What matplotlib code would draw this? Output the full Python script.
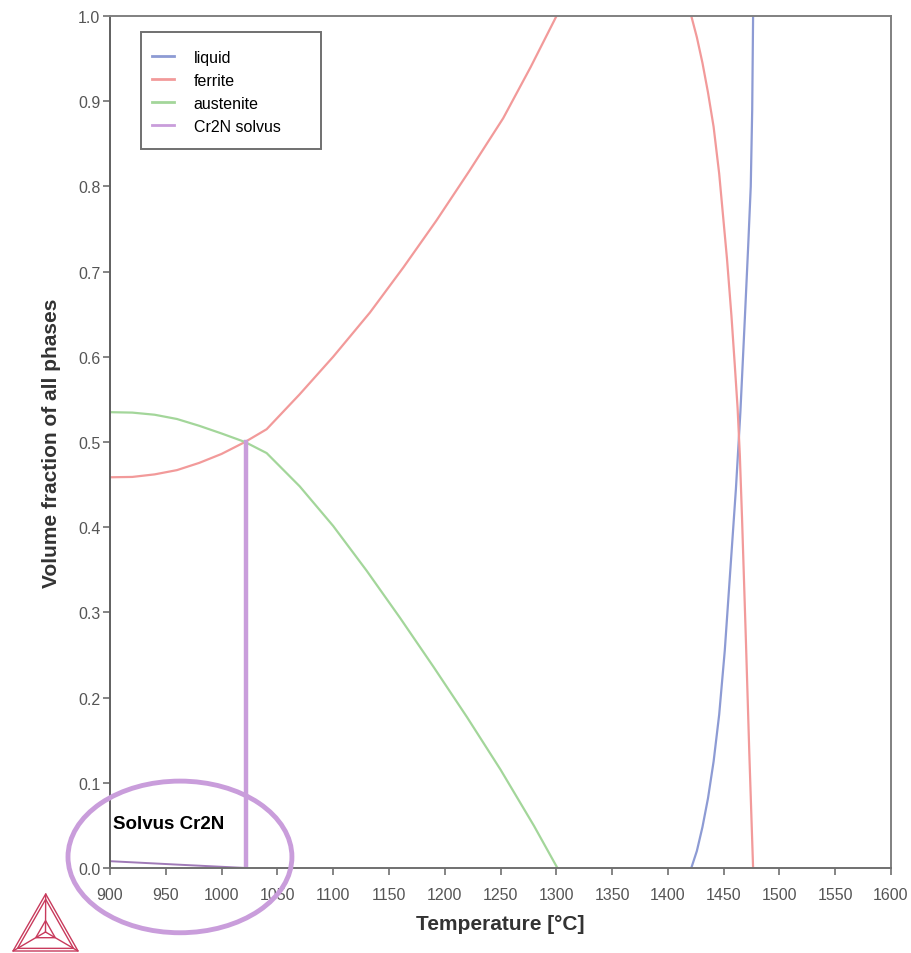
import numpy as np
import matplotlib.pyplot as plt
from matplotlib.lines import Line2D
from matplotlib.patches import Ellipse, Rectangle, Polygon

plt.rcParams['font.family'] = ['Liberation Sans', 'DejaVu Sans']

# 各相体积分数 (温度 °C)
liquid_T = [1421, 1426, 1431, 1436, 1441, 1446, 1451, 1456, 1461, 1465, 1469, 1472, 1474.3, 1475.6, 1476.4]
liquid_v = [0.0, 0.02, 0.048, 0.082, 0.125, 0.18, 0.255, 0.35, 0.445, 0.535, 0.645, 0.73, 0.80, 0.89, 1.0]

ferrite_low_T = [900, 920, 940, 960, 980, 1000, 1021, 1040.4,
                 1070, 1100, 1133, 1163, 1192.6, 1222, 1252.4, 1277, 1300.2]
ferrite_low_v = [0.4586, 0.459, 0.462, 0.467, 0.4755, 0.486, 0.500, 0.515,
                 0.556, 0.600, 0.652, 0.705, 0.760, 0.818, 0.880, 0.940, 1.0]
ferrite_high_T = [1421, 1426, 1431, 1436, 1441, 1446, 1449.5, 1453, 1457, 1460,
                  1462.5, 1464.5, 1466.5, 1470, 1473, 1476.4]
ferrite_high_v = [1.0, 0.975, 0.945, 0.91, 0.87, 0.815, 0.765, 0.715, 0.648, 0.59,
                  0.54, 0.485, 0.41, 0.265, 0.135, 0.0]

austenite_T = [900, 920, 940, 960, 980, 1000, 1021, 1040.4, 1070, 1100, 1130, 1160,
               1190, 1220, 1250, 1280, 1301]
austenite_v = [0.535, 0.5345, 0.532, 0.527, 0.519, 0.510, 0.500, 0.487, 0.448, 0.4015,
               0.349, 0.2935, 0.236, 0.177, 0.1155, 0.0495, 0.0]

cr2n_T = [900, 960, 1022]
cr2n_v = [0.008, 0.004, 0.0]
solvus_T = 1022
solvus_top = 0.5

c_liquid = '#8d9bd4'
c_ferrite = '#f29a9a'
c_aust = '#a3d69a'
c_cr2n = '#c99ddb'

fig = plt.figure(figsize=(9.12, 9.54), dpi=100)
ax = fig.add_axes([110 / 912, 1 - 869 / 954, 781 / 912, 852 / 954])

lw = 1.6
ax.plot(liquid_T, liquid_v, color=c_liquid, lw=lw)
ax.plot(ferrite_low_T, ferrite_low_v, color=c_ferrite, lw=lw)
ax.plot(ferrite_high_T, ferrite_high_v, color=c_ferrite, lw=lw)
ax.plot(austenite_T, austenite_v, color=c_aust, lw=lw)
ax.plot(cr2n_T, cr2n_v, color='#a07ab8', lw=1.4)
ax.plot([solvus_T, solvus_T], [0, solvus_top], color=c_cr2n, lw=3.2)

ax.set_xlim(900, 1600)
ax.set_ylim(0, 1.0)
ax.set_xticks(np.arange(900, 1601, 50))
ax.set_yticks(np.arange(0, 1.01, 0.1))
ax.set_yticklabels(['%.1f' % v for v in np.arange(0, 1.01, 0.1)])

for s in ax.spines.values():
    s.set_color('#808080')
    s.set_linewidth(1.4)
ax.spines['left'].set_color('#606060')
ax.spines['bottom'].set_color('#707070')
ax.tick_params(direction='out', length=5, width=1.2, color='#707070',
               labelcolor='#555555', labelsize=11.5)
ax.tick_params(axis='x', pad=9)
ax.tick_params(axis='y', pad=2)

ax.set_xlabel('Temperature [°C]', fontsize=15, fontweight='bold', color='#333333', labelpad=8)
ax.set_ylabel('Volume fraction of all phases', fontsize=15, fontweight='bold', color='#333333', labelpad=12)

# 图例
handles = [Line2D([], [], color=c, lw=2) for c in (c_liquid, c_ferrite, c_aust, c_cr2n)]
ax.legend(handles, ['liquid', 'ferrite', 'austenite', 'Cr2N solvus'],
          loc='upper left', bbox_to_anchor=((152 - 110) / 781, 1 - (51 - 17) / 852),
          frameon=False, fontsize=11.5, handlelength=1.4, handletextpad=1.2,
          labelspacing=0.5, borderpad=0, borderaxespad=0)
ax.add_patch(Rectangle(((141 - 110) / 781, 1 - (150 - 17) / 852), 180 / 781, 117 / 852,
                       transform=ax.transAxes, fill=False, edgecolor='#707070', lw=1.4))

# 圈出 Cr2N 固溶线
ax.add_patch(Ellipse((962.7, 0.013), 200.7, 0.178, fill=False, edgecolor=c_cr2n,
                     lw=3.5, clip_on=False, zorder=5))
ax.text(903, 0.052, 'Solvus Cr2N', fontsize=13.5, fontweight='bold', ha='left', va='center')

# 左下角三角标志
top = np.array([45.7, 895.0])
bl = np.array([13.0, 952.0])
br = np.array([78.0, 952.0])
cen = np.array([45.5, 933.0])
logo_c = '#c83a5c'
def px(p):
    return (p[0] / 912, 1 - p[1] / 954)
for k in (1.0, 0.86, 0.3):
    pts = [px(cen + k * (p - cen)) for p in (top, bl, br)]
    fig.patches.append(Polygon(pts, closed=True, fill=False, edgecolor=logo_c, lw=1.0,
                               transform=fig.transFigure))
for p in (top, bl, br):
    a, b = px(p), px(cen)
    fig.add_artist(Line2D([a[0], b[0]], [a[1], b[1]], color=logo_c, lw=1.0,
                          transform=fig.transFigure))

fig.savefig('out.png', dpi=100)
